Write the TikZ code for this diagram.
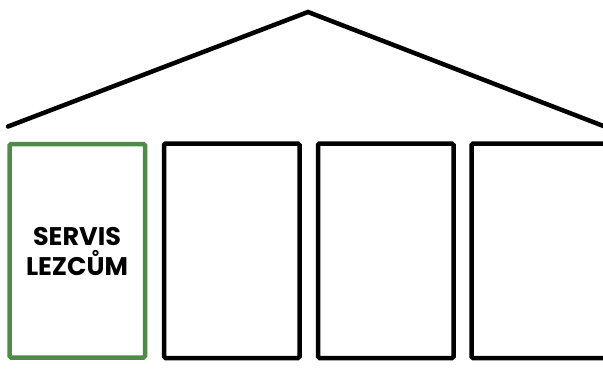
\documentclass[tikz,border=0pt]{standalone}
\usepackage{fontspec}
\setmainfont{Poppins}
\definecolor{boxgreen}{HTML}{4F8A48}
\begin{document}
\begin{tikzpicture}[x=1pt,y=-1pt,
  wall/.style={draw=black,line width=4.5pt,rounded corners=1.5pt,outer sep=0pt,inner sep=0pt},
  roofline/.style={draw=black,line width=4.5pt,line cap=round,line join=miter},
  label/.style={font=\fontsize{25.5}{30}\selectfont\bfseries,align=center,text=black}]
\useasboundingbox (0,0) rectangle (603,372);
\begin{scope}
\clip (0,0) rectangle (603,372);
\coordinate (rl) at (8,126.5);
\coordinate (peak) at (308,12);
\coordinate (rr) at (606,127);
\draw[roofline] (rl) -- (peak) -- (rr);
\node[wall,draw=boxgreen,minimum width=135.5pt,minimum height=213.5pt,anchor=north west] (b1) at (9.5,144) {};
\node[wall,minimum width=135.5pt,minimum height=214.5pt,anchor=north west] (b2) at (164,143.5) {};
\node[wall,minimum width=135.5pt,minimum height=214.5pt,anchor=north west] (b3) at (318,143.5) {};
\node[wall,minimum width=135.5pt,minimum height=214.5pt,anchor=north west] (b4) at (471.5,143.5) {};
\end{scope}
\node[label] (t) at (77,252) {SERVIS\\LEZCŮM};
\end{tikzpicture}
\end{document}
